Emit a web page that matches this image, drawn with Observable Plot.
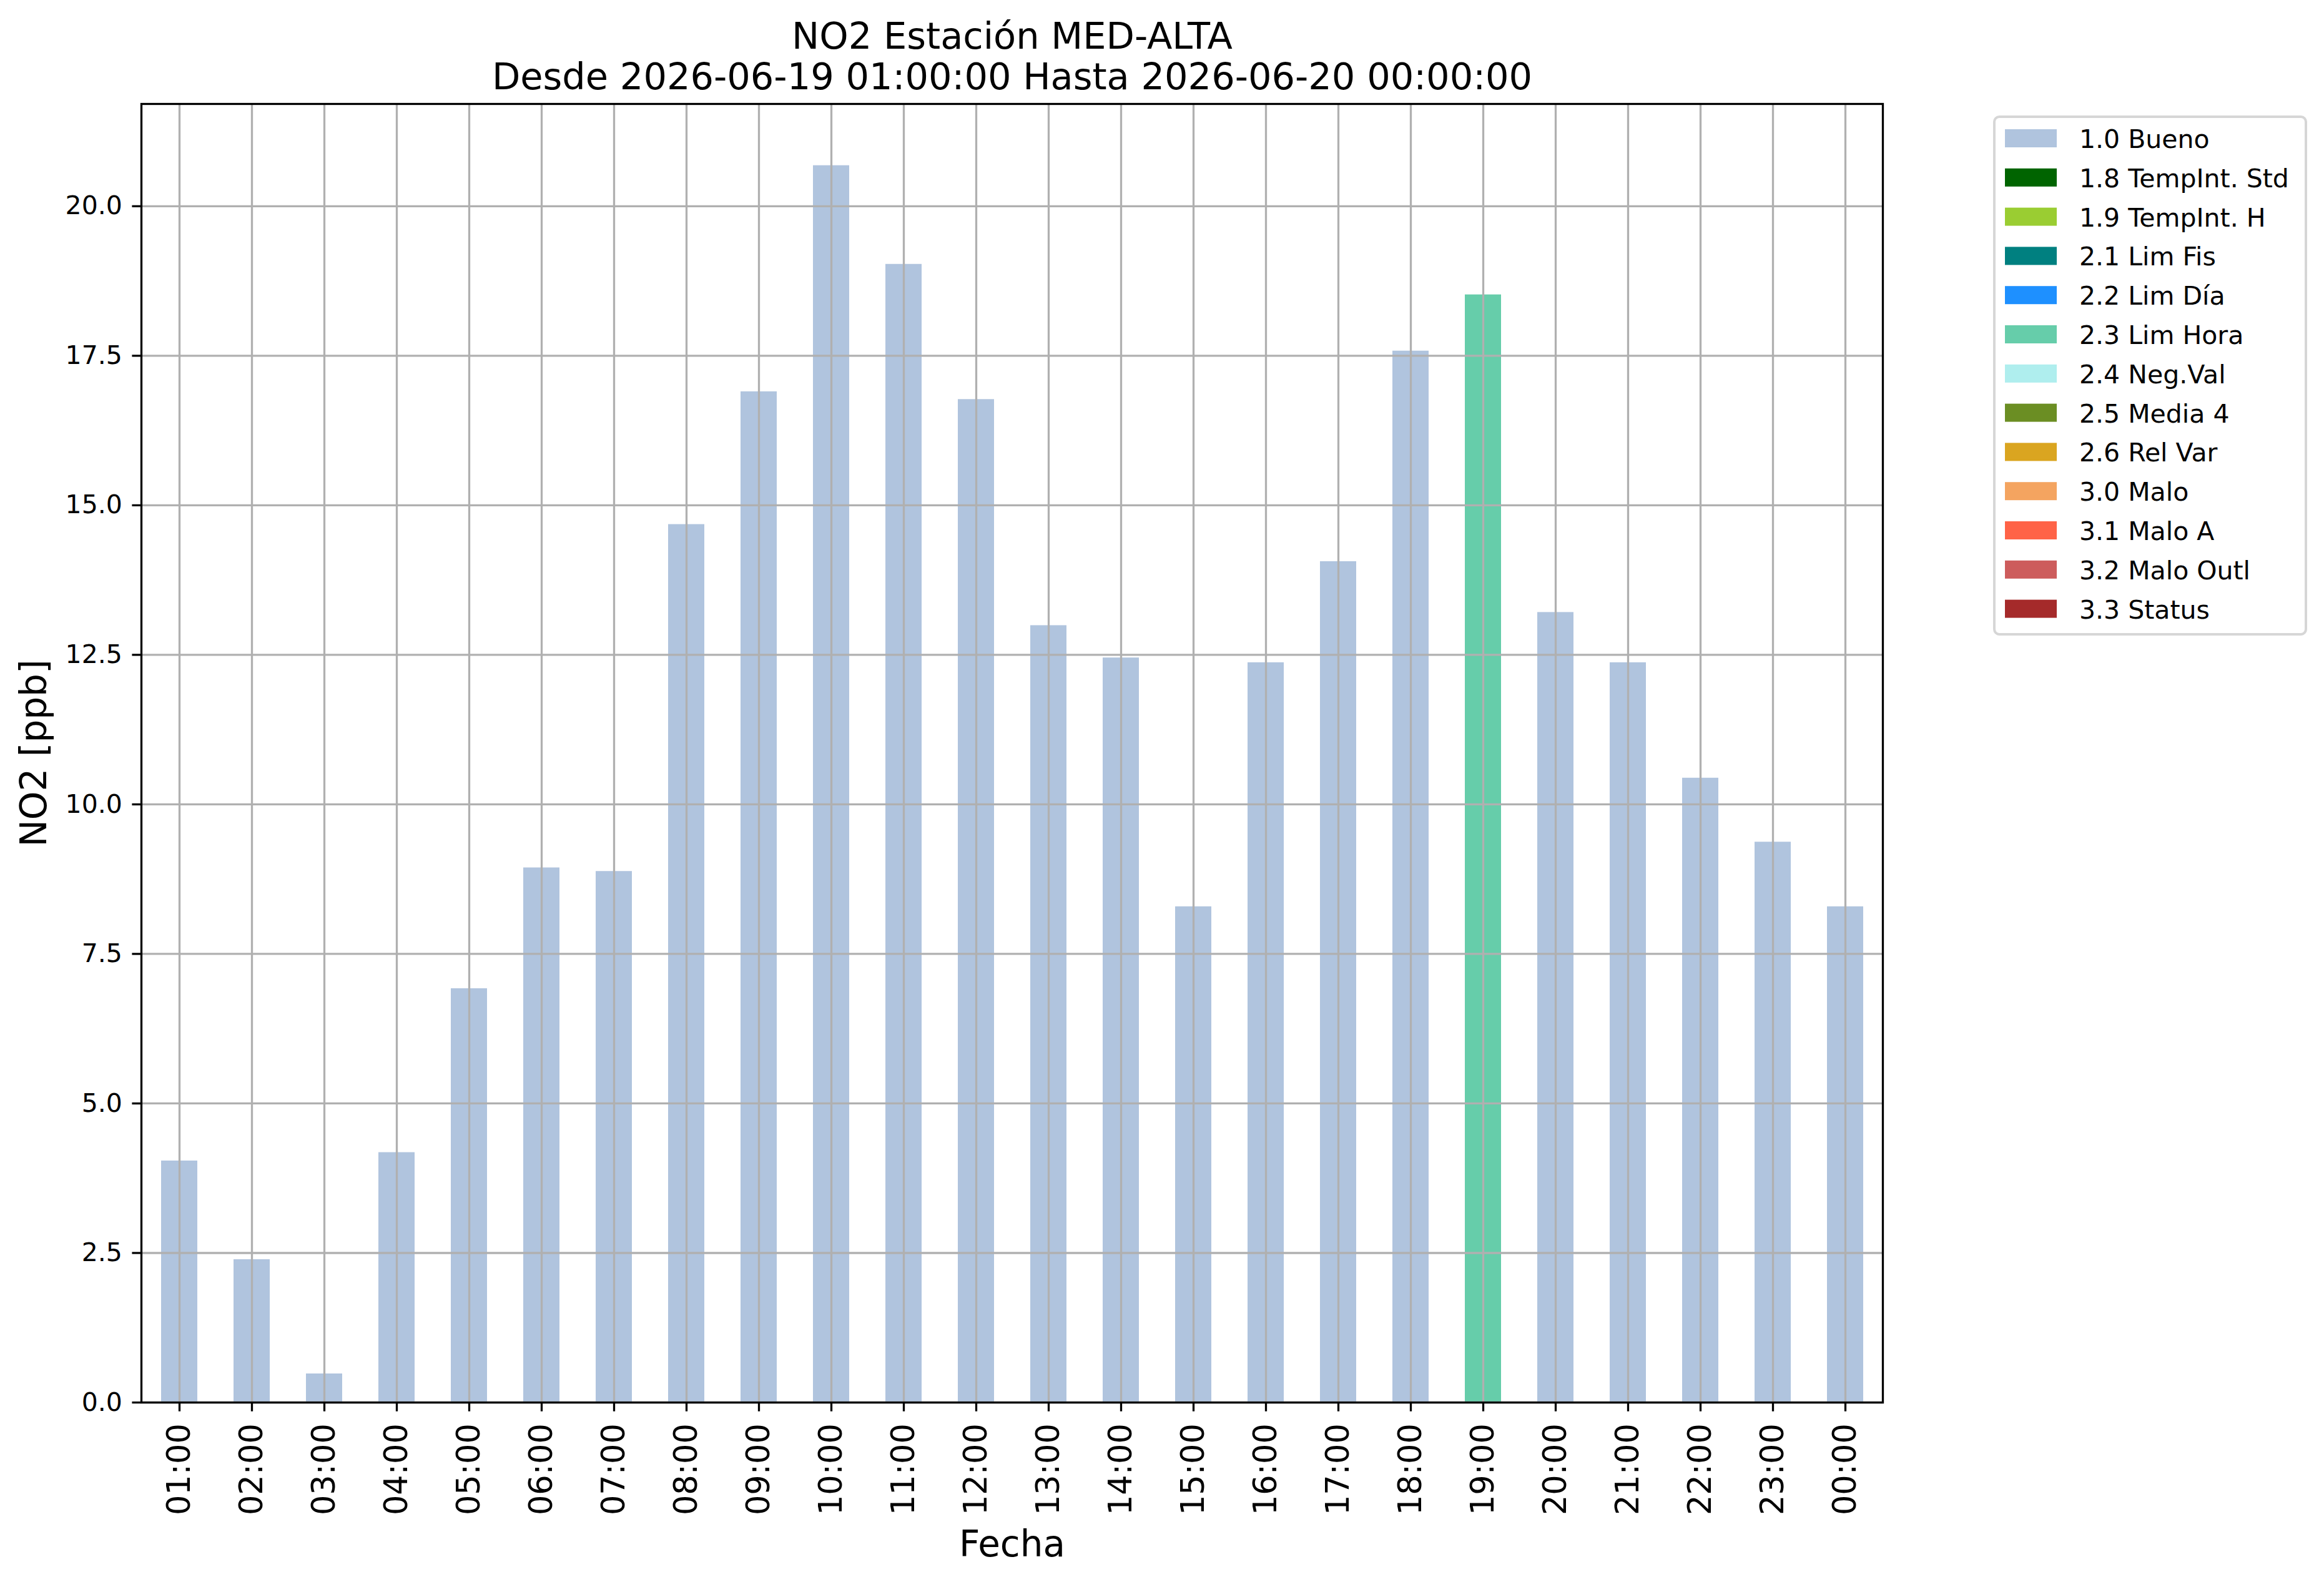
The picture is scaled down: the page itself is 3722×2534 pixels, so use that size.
<!DOCTYPE html>
<html>
<head>
<meta charset="utf-8">
<script src="https://cdn.jsdelivr.net/npm/d3@7"></script>
<script src="https://cdn.jsdelivr.net/npm/@observablehq/plot@0.6"></script>
<style>
  html, body { margin: 0; padding: 0; background: white; }
  #chart { position: relative; width: 3722px; height: 2534px; }
</style>
</head>
<body>
<div id="chart"></div>
<script>
// ---- data ----
const hours = ["01:00","02:00","03:00","04:00","05:00","06:00","07:00","08:00","09:00","10:00","11:00","12:00",
               "13:00","14:00","15:00","16:00","17:00","18:00","19:00","20:00","21:00","22:00","23:00","00:00"];
const values = [4.04, 2.39, 0.48, 4.18, 6.92, 8.94, 8.88, 14.68, 16.90, 20.68, 19.03, 16.77,
                12.99, 12.45, 8.29, 12.37, 14.06, 17.58, 18.52, 13.21, 12.37, 10.44, 9.37, 8.29];
const flags = ["1.0 Bueno","1.0 Bueno","1.0 Bueno","1.0 Bueno","1.0 Bueno","1.0 Bueno","1.0 Bueno","1.0 Bueno",
               "1.0 Bueno","1.0 Bueno","1.0 Bueno","1.0 Bueno","1.0 Bueno","1.0 Bueno","1.0 Bueno","1.0 Bueno",
               "1.0 Bueno","1.0 Bueno","2.3 Lim Hora","1.0 Bueno","1.0 Bueno","1.0 Bueno","1.0 Bueno","1.0 Bueno"];
const flagLabels = ["1.0 Bueno","1.8 TempInt. Std","1.9 TempInt. H","2.1 Lim Fis","2.2 Lim Día","2.3 Lim Hora",
                    "2.4 Neg.Val","2.5 Media 4","2.6 Rel Var","3.0 Malo","3.1 Malo A","3.2 Malo Outl","3.3 Status"];
const flagColors = ["#b0c4de","#006400","#9acd32","#008080","#1e90ff","#66cdaa",
                    "#afeeee","#6b8e23","#daa520","#f4a460","#ff6347","#cd5c5c","#a52a2a"];
const yTicks = [0, 2.5, 5, 7.5, 10, 12.5, 15, 17.5, 20];
const yDomain = [0, 21.71];
const titleText = "NO2 Estación MED-ALTA\nDesde 2026-06-19 01:00:00 Hasta 2026-06-20 00:00:00";
const xLabel = "Fecha";
const yLabel = "NO2 [ppb]";

const data = hours.map((h, i) => ({hour: h, value: values[i], flag: flags[i]}));

const GRID = "#b0b0b0";
const LW = 3.3;

const chart = Plot.plot({
  width: 3722,
  height: 2534,
  marginLeft: 226,
  marginRight: 707,
  marginTop: 166,
  marginBottom: 288,
  style: {fontFamily: "DejaVu Sans", background: "white", color: "black", overflow: "visible"},
  x: {type: "band", domain: hours, paddingInner: 0.5, paddingOuter: 0.25, label: null},
  y: {domain: yDomain, label: null},
  color: {domain: flagLabels, range: flagColors},
  marks: [
    Plot.barY(data, {x: "hour", y: "value", fill: "flag", inset: 0}),
    Plot.gridX({stroke: GRID, strokeOpacity: 1, strokeWidth: LW}),
    Plot.gridY(yTicks, {stroke: GRID, strokeOpacity: 1, strokeWidth: LW}),
    Plot.axisY(yTicks, {tickFormat: d3.format(".1f"), tickSize: 14.6, tickPadding: 16,
                        fontSize: 41, strokeWidth: LW, label: null}),
    Plot.axisX({tickRotate: -90, textAnchor: "end", lineAnchor: "middle", tickSize: 14.6, tickPadding: 19,
                fontSize: 51, strokeWidth: LW, label: null}),
    Plot.frame({stroke: "black", strokeWidth: LW}),
    Plot.text([titleText], {text: d => d, frameAnchor: "top", lineAnchor: "bottom", dy: -24,
                            fontSize: 59, lineHeight: 1.1, fill: "black"}),
    Plot.text([xLabel], {text: d => d, frameAnchor: "bottom", lineAnchor: "bottom", dy: 246,
                         fontSize: 58, fill: "black"}),
    Plot.text([yLabel], {text: d => d, frameAnchor: "left", textAnchor: "middle", lineAnchor: "middle",
                         rotate: -90, dx: -171, fontSize: 58, fill: "black"})
  ]
});

// ---- legend (drawn into the same SVG) ----
const svg = d3.select(chart);
const lg = svg.append("g").attr("font-family", "DejaVu Sans").attr("text-anchor", "start");
const boxX = 3194, boxY = 187, boxW = 499, boxH = 829, rowH = 62.8;
lg.append("rect")
  .attr("x", boxX).attr("y", boxY).attr("width", boxW).attr("height", boxH)
  .attr("rx", 8).attr("fill", "white").attr("fill-opacity", 0.8)
  .attr("stroke", "#d6d6d6").attr("stroke-width", 4);
const items = lg.selectAll("g.item").data(flagLabels).join("g")
  .attr("class", "item")
  .attr("transform", (d, i) => `translate(0,${221.5 + i * rowH})`);
items.append("rect")
  .attr("x", 3211).attr("y", -14.5).attr("width", 83).attr("height", 29)
  .attr("fill", (d, i) => flagColors[i]);
items.append("text")
  .attr("x", 3330).attr("y", 15.5)
  .attr("text-anchor", "start")
  .attr("font-size", 41).attr("fill", "black")
  .text(d => d);

document.getElementById("chart").appendChild(chart);
</script>
</body>
</html>
